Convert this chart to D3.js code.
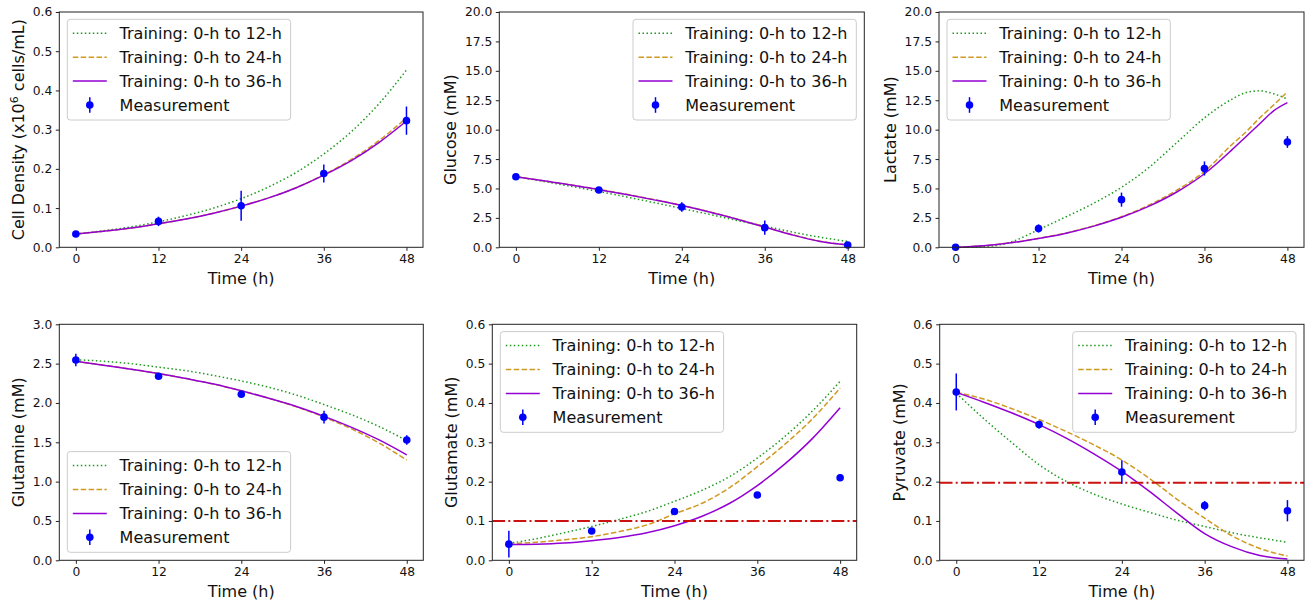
<!DOCTYPE html>
<html>
<head>
<meta charset="utf-8">
<script src="https://cdn.jsdelivr.net/npm/d3@7"></script>
<style>
  body { margin: 0; background: #fff; }
  svg { display: block; font-family: "DejaVu Sans", sans-serif; }
</style>
</head>
<body>
<div id="chart"></div>
<script>
// ---- data ----
var timeMeas = [0, 12, 24, 36, 48];
var timeFit = [0, 4, 8, 12, 16, 20, 24, 28, 32, 36, 40, 44, 48];
var timeFitLac = [0, 4, 8, 12, 16, 20, 24, 28, 32, 36, 40, 42, 44, 46, 48];
var xTicks = [0, 12, 24, 36, 48];

var seriesNames = ["Training: 0-h to 12-h", "Training: 0-h to 24-h", "Training: 0-h to 36-h"];
var measName = "Measurement";

// cell density (x10^6 cells/mL)
var cellFit12 = [0.034, 0.042, 0.052, 0.065, 0.081, 0.100, 0.124, 0.154, 0.191, 0.238, 0.295, 0.366, 0.452];
var cellFit24 = [0.034, 0.041, 0.049, 0.060, 0.072, 0.087, 0.105, 0.126, 0.152, 0.185, 0.224, 0.272, 0.330];
var cellFit36 = [0.034, 0.041, 0.049, 0.060, 0.072, 0.087, 0.105, 0.126, 0.152, 0.184, 0.221, 0.267, 0.322];
var cellMeas = [0.034, 0.066, 0.106, 0.188, 0.323];
var cellErr = [0.004, 0.012, 0.038, 0.023, 0.036];

// glucose (mM)
var glcFit12 = [6.0, 5.6, 5.18, 4.75, 4.28, 3.8, 3.3, 2.8, 2.28, 1.8, 1.3, 0.86, 0.5];
var glcFit24 = [6.0, 5.65, 5.3, 4.92, 4.5, 4.05, 3.57, 3.02, 2.4, 1.74, 1.07, 0.52, 0.2];
var glcFit36 = [6.0, 5.65, 5.3, 4.9, 4.48, 4.03, 3.55, 3.0, 2.38, 1.72, 1.05, 0.5, 0.2];
var glcMeas = [6.0, 4.87, 3.42, 1.67, 0.2];
var glcErr = [0.1, 0.12, 0.4, 0.6, 0.12];

// lactate (mM)
var lacFit12 = [0, 0.05, 0.45, 1.5, 2.6, 3.75, 5.1, 6.8, 8.9, 11.0, 12.6, 13.15, 13.3, 13.05, 12.6];
var lacFit24 = [0, 0.13, 0.38, 0.76, 1.22, 1.83, 2.6, 3.6, 4.85, 6.45, 8.75, 9.8, 11.0, 12.1, 13.2];
var lacFit36 = [0, 0.13, 0.38, 0.75, 1.2, 1.8, 2.55, 3.5, 4.7, 6.25, 8.3, 9.4, 10.5, 11.6, 12.3];
var lacMeas = [0, 1.6, 4.05, 6.7, 8.95];
var lacErr = [0.15, 0.35, 0.6, 0.6, 0.5];

// glutamine (mM)
var glnFit12 = [2.55, 2.53, 2.5, 2.455, 2.41, 2.35, 2.28, 2.2, 2.1, 1.98, 1.85, 1.7, 1.52];
var glnFit24 = [2.53, 2.48, 2.43, 2.375, 2.31, 2.24, 2.155, 2.06, 1.95, 1.82, 1.67, 1.49, 1.275];
var glnFit36 = [2.53, 2.48, 2.43, 2.375, 2.31, 2.24, 2.155, 2.06, 1.955, 1.83, 1.69, 1.53, 1.34];
var glnMeas = [2.546, 2.34, 2.11, 1.82, 1.53];
var glnErr = [0.08, 0.03, 0.03, 0.08, 0.06];

// glutamate (mM)
var gluFit12 = [0.043, 0.055, 0.07, 0.086, 0.104, 0.124, 0.15, 0.178, 0.213, 0.26, 0.315, 0.38, 0.455];
var gluFit24 = [0.042, 0.046, 0.052, 0.06, 0.073, 0.09, 0.118, 0.145, 0.185, 0.238, 0.295, 0.36, 0.438];
var gluFit36 = [0.04, 0.041, 0.044, 0.05, 0.058, 0.07, 0.088, 0.112, 0.145, 0.19, 0.245, 0.31, 0.388];
var gluMeas = [0.041, 0.0745, 0.124, 0.166, 0.21];
var gluErr = [0.034, 0.006, 0.006, 0.004, 0.008];
var gluLimit = 0.1;

// pyruvate (mM)
var pyrFit12 = [0.425, 0.36, 0.3, 0.243, 0.2, 0.168, 0.143, 0.122, 0.102, 0.086, 0.07, 0.057, 0.046];
var pyrFit24 = [0.427, 0.41, 0.386, 0.358, 0.327, 0.293, 0.255, 0.208, 0.155, 0.107, 0.062, 0.03, 0.011];
var pyrFit36 = [0.427, 0.402, 0.375, 0.345, 0.31, 0.27, 0.226, 0.175, 0.12, 0.068, 0.034, 0.012, 0.003];
var pyrMeas = [0.428, 0.345, 0.2245, 0.139, 0.126];
var pyrErr = [0.047, 0.01, 0.03, 0.012, 0.027];
var pyrLimit = 0.197;

// ---- styles ----
var fitColors = ["#1f9a1f", "#d09a22", "#9400d3"];
var fitDash = ["1.5,2.5", "5.5,2.4", null];
var measColor = "#0000ff";
var limitColor = "#cc1111";

var width = 1308, height = 604;

var svg = d3.select("#chart").append("svg")
    .attr("width", width)
    .attr("height", height);

var panels = [
    { box: [59.3, 12, 423, 247.3], yMax: 0.6, yStep: 0.1, label: "Cell Density", t: timeFit,
      fits: [cellFit12, cellFit24, cellFit36], meas: cellMeas, err: cellErr, legend: "ul" },
    { box: [499.3, 12, 864.3, 247.3], yMax: 20, yStep: 2.5, label: "Glucose (mM)", t: timeFit,
      fits: [glcFit12, glcFit24, glcFit36], meas: glcMeas, err: glcErr, legend: "ur" },
    { box: [939, 12, 1304, 247.3], yMax: 20, yStep: 2.5, label: "Lactate (mM)", t: timeFitLac,
      fits: [lacFit12, lacFit24, lacFit36], meas: lacMeas, err: lacErr, legend: "ul" },
    { box: [59.3, 324.3, 423.3, 560.3], yMax: 3, yStep: 0.5, label: "Glutamine (mM)", t: timeFit,
      fits: [glnFit12, glnFit24, glnFit36], meas: glnMeas, err: glnErr, legend: "ll" },
    { box: [492.3, 324.3, 856.7, 560.3], yMax: 0.6, yStep: 0.1, label: "Glutamate (mM)", t: timeFit,
      fits: [gluFit12, gluFit24, gluFit36], meas: gluMeas, err: gluErr, legend: "ul", limit: gluLimit },
    { box: [939.7, 324.3, 1304, 560.3], yMax: 0.6, yStep: 0.1, label: "Pyruvate (mM)", t: timeFit,
      fits: [pyrFit12, pyrFit24, pyrFit36], meas: pyrMeas, err: pyrErr, legend: "ur", limit: pyrLimit }
];

panels.forEach(function (p, idx) {
    var x0 = p.box[0], y0 = p.box[1], x1 = p.box[2], y1 = p.box[3];
    var x = d3.scaleLinear().domain([-2.4, 50.4]).range([x0, x1]);
    var y = d3.scaleLinear().domain([0, p.yMax]).range([y1, y0]);
    var g = svg.append("g");

    // fitted curves
    p.fits.forEach(function (vals, i) {
        var line = d3.line()
            .x(function (d, j) { return x(p.t[j]); })
            .y(function (d) { return y(d); })
            .curve(d3.curveMonotoneX);
        g.append("path")
            .attr("d", line(vals))
            .attr("fill", "none")
            .attr("stroke", fitColors[i])
            .attr("stroke-width", 1.5)
            .attr("stroke-dasharray", fitDash[i]);
    });

    // threshold line
    if (p.limit !== undefined) {
        g.append("line")
            .attr("x1", x0).attr("x2", x1)
            .attr("y1", y(p.limit)).attr("y2", y(p.limit))
            .attr("stroke", limitColor)
            .attr("stroke-width", 2)
            .attr("stroke-dasharray", "12.8,3.2,2,3.2");
    }

    // measurements with error bars
    var pts = g.selectAll(".meas")
        .data(p.meas)
        .enter().append("g");
    pts.append("line")
        .attr("x1", function (d, i) { return x(timeMeas[i]); })
        .attr("x2", function (d, i) { return x(timeMeas[i]); })
        .attr("y1", function (d, i) { return y(d - p.err[i]); })
        .attr("y2", function (d, i) { return y(d + p.err[i]); })
        .attr("stroke", measColor)
        .attr("stroke-width", 1.5);
    pts.append("circle")
        .attr("cx", function (d, i) { return x(timeMeas[i]); })
        .attr("cy", function (d) { return y(d); })
        .attr("r", 3.8)
        .attr("fill", measColor);

    // axes frame
    g.append("rect")
        .attr("x", x0).attr("y", y0)
        .attr("width", x1 - x0).attr("height", y1 - y0)
        .attr("fill", "none")
        .attr("stroke", "#222")
        .attr("stroke-width", 1);

    // x axis
    var xAxis = g.append("g")
        .attr("transform", "translate(0," + y1 + ")")
        .call(d3.axisBottom(x).tickValues(xTicks).tickSize(3.5).tickPadding(3.5).tickFormat(d3.format("d")));
    xAxis.select(".domain").remove();
    xAxis.selectAll("text").attr("font-size", 12.3).attr("fill", "#111").attr("font-family", "DejaVu Sans");
    xAxis.selectAll("line").attr("stroke", "#222");

    // y axis
    var yTicks = d3.range(0, p.yMax + p.yStep / 2, p.yStep);
    var yAxis = g.append("g")
        .attr("transform", "translate(" + x0 + ",0)")
        .call(d3.axisLeft(y).tickValues(yTicks).tickSize(3.5).tickPadding(3.5).tickFormat(d3.format(".1f")));
    yAxis.select(".domain").remove();
    yAxis.selectAll("text").attr("font-size", 12.3).attr("fill", "#111").attr("font-family", "DejaVu Sans");
    yAxis.selectAll("line").attr("stroke", "#222");

    var maxW = 0;
    yAxis.selectAll("text").each(function () {
        maxW = Math.max(maxW, this.getComputedTextLength());
    });

    // axis labels
    g.append("text")
        .attr("x", (x0 + x1) / 2)
        .attr("y", y1 + 37)
        .attr("text-anchor", "middle")
        .attr("font-size", 16)
        .attr("fill", "#111")
        .text("Time (h)");

    var lx = x0 - maxW - 15.5;
    var ly = (y0 + y1) / 2;
    var yl = g.append("text")
        .attr("transform", "translate(" + lx + "," + ly + ") rotate(-90)")
        .attr("text-anchor", "middle")
        .attr("font-size", 16)
        .attr("fill", "#111");
    if (idx === 0) {
        yl.append("tspan").text("Cell Density (x10");
        yl.append("tspan").attr("font-size", 11).attr("dy", -6).text("6");
        yl.append("tspan").attr("dy", 6).text(" cells/mL)");
    } else {
        yl.text(p.label);
    }

    // legend
    var lw = 223.3, lh = 100.7, pad = 8;
    var lgx = (p.legend === "ur") ? x1 - pad - lw : x0 + pad;
    var lgy = (p.legend === "ll") ? y1 - pad - lh : y0 + 7.3;
    var lg = g.append("g").attr("transform", "translate(" + lgx + "," + lgy + ")");
    lg.append("rect")
        .attr("width", lw).attr("height", lh)
        .attr("rx", 3)
        .attr("fill", "#fff").attr("fill-opacity", 0.8)
        .attr("stroke", "#ccc").attr("stroke-width", 1);
    var rows = seriesNames.concat([measName]);
    rows.forEach(function (name, i) {
        var cy = 14 + i * 23.9;
        if (i < 3) {
            lg.append("line")
                .attr("x1", 5.5).attr("x2", 39.5)
                .attr("y1", cy).attr("y2", cy)
                .attr("stroke", fitColors[i])
                .attr("stroke-width", 1.5)
                .attr("stroke-dasharray", fitDash[i]);
        } else {
            lg.append("line")
                .attr("x1", 22.5).attr("x2", 22.5)
                .attr("y1", cy - 7.8).attr("y2", cy + 7.8)
                .attr("stroke", measColor)
                .attr("stroke-width", 1.5);
            lg.append("circle")
                .attr("cx", 22.5).attr("cy", cy)
                .attr("r", 3.8)
                .attr("fill", measColor);
        }
        lg.append("text")
            .attr("x", 52.3)
            .attr("y", cy + 5.8)
            .attr("font-size", 16)
            .attr("fill", "#111")
            .text(name);
    });
});
</script>
</body>
</html>
